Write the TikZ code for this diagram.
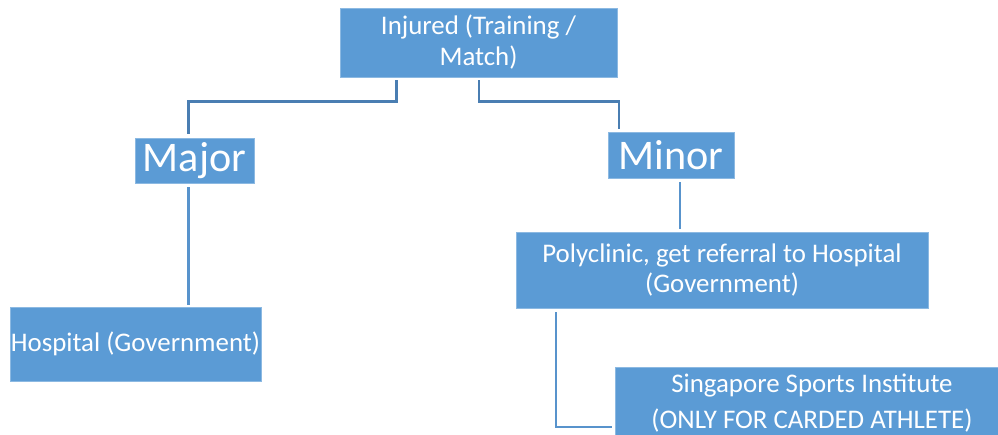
\documentclass[tikz,border=0pt]{standalone}
\usepackage{fontspec}
\setmainfont{Carlito}
\usetikzlibrary{positioning, calc}
\definecolor{BoxBlue}{HTML}{5B9BD5}
\definecolor{LineBlue}{HTML}{4A7EB2}
\definecolor{LineLight}{HTML}{5893CC}

\begin{document}
\begin{tikzpicture}[x=0.02cm, y=-0.02cm,
          box/.style={rectangle, fill=BoxBlue, draw=BoxBlue!70!white, line width=0.3pt,
                      text=white, inner sep=0pt, align=center,
                      font=\fontsize{15.3}{17.6}\selectfont},
          big/.style={font=\fontsize{24}{28}\selectfont},
          link/.style={LineBlue, line width=1.7pt},
          linklow/.style={LineLight, line width=1.7pt}
        ]
        \useasboundingbox (0,0) rectangle (998,435);

        % top
        \node[box, minimum width=5.54cm, minimum height=1.38cm]
              (injured) at (478.5, 42.5) {Injured (Training /\\Match)};

        % branches
        \node[box, big, minimum width=2.38cm, minimum height=0.9cm]
              (major) at (194.5, 160.5) {Major};
        \node[box, big, minimum width=2.52cm, minimum height=0.92cm]
              (minor) at (671, 155) {Minor};

        % care
        \node[box, minimum width=5.02cm, minimum height=1.48cm]
              (hospital) at (135.5, 344) {Hospital (Government)};
        \node[box, minimum width=8.24cm, minimum height=1.52cm]
              (poly) at (722, 270) {Polyclinic, get referral to Hospital\\(Government)};
        \node[box, minimum width=7.88cm, minimum height=1.44cm,
              font=\fontsize{15.3}{20.4}\selectfont]
              (ssi) at (812, 403) {Singapore Sports Institute\\(ONLY FOR CARDED ATHLETE)};

        \draw[link] ($(injured.south)+(-82,3)$) -- ++(0,21)
              -| ($(major.north)+(-6,-4)$);
        \draw[link] ($(injured.south)+(0.5,3)$) -- ++(0,21)
              -| ($(minor.north)+(-52,-3)$);

        \draw[linklow] ($(major.south)+(-6,4)$) -- ($(major.south |- hospital.north)+(-6,-2)$);
        \draw[linklow] ($(minor.south)+(9,4)$) -- ($(minor.south |- poly.north)+(9,-3)$);
        \draw[linklow] ($(poly.south)+(-166,4)$) |- ($(ssi.west)+(-3,24)$);
      \end{tikzpicture}
\end{document}
